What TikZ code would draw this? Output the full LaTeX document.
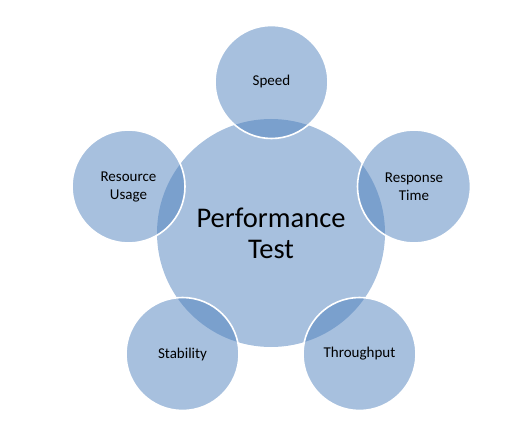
\documentclass[tikz,border=0pt]{standalone}
\usepackage{fontspec}
\setmainfont{Carlito}
\definecolor{accent}{HTML}{4F81BD}
\begin{document}
\begin{tikzpicture}[x=1pt,y=-1pt,
  maincirc/.style={circle, fill=accent, fill opacity=0.5, text opacity=1, minimum size=228pt, inner sep=0pt, align=center, font=\fontsize{28.5}{31}\selectfont},
  satcirc/.style={circle, fill=accent, fill opacity=0.5, draw=white, draw opacity=1, text opacity=1, line width=1.6pt, minimum size=113pt, inner sep=0pt, align=center, font=\fontsize{15}{18}\selectfont}]
\useasboundingbox (0,0) rectangle (519,422);
\node[maincirc] (main) at (271,233) {Performance\\Test};
\node[satcirc] (speed) at (271.5,82) {Speed};
\node[satcirc] (resp) at (414,186.5) {Response\\Time};
\node[satcirc] (thru) at (359.5,354) {Throughput};
\node[satcirc] (stab) at (182.5,354) {Stability};
\node[satcirc] (res) at (128.5,186.5) {Resource\\Usage};
\end{tikzpicture}
\end{document}
